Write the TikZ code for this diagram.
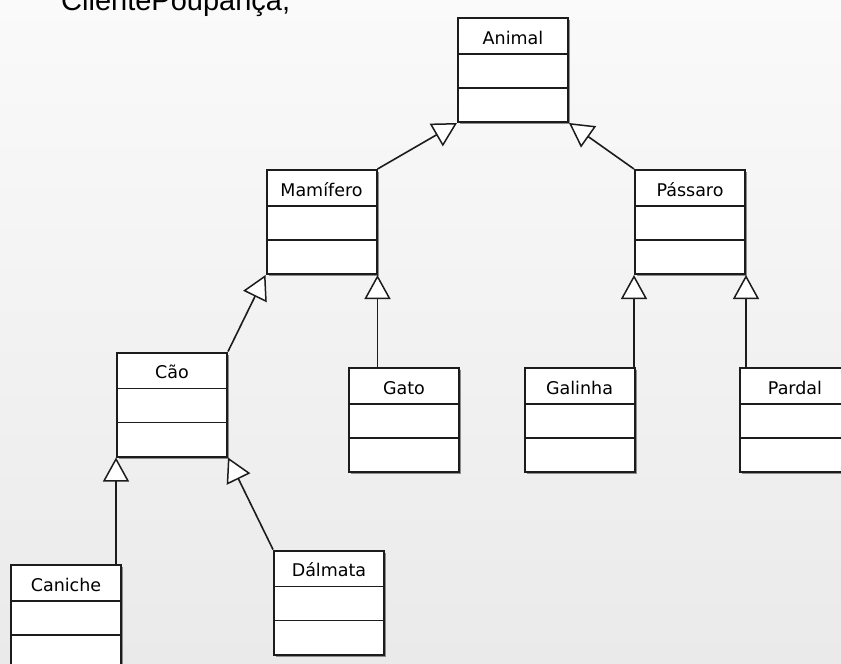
\documentclass[tikz,border=0pt]{standalone}
\usepackage{fontspec}
\setmainfont{DejaVu Sans}
\newfontfamily\titlefont{Liberation Sans}
\usetikzlibrary{arrows.meta,shadows}
\definecolor{bgtop}{RGB}{250,250,250}
\definecolor{bgbot}{RGB}{234,234,234}
\definecolor{ink}{RGB}{28,28,28}
\begin{document}
\begin{tikzpicture}[x=1pt,y=-1pt,
  umlclass/.style={draw=ink, line width=2pt, fill=white, inner sep=0pt,
    minimum width=110pt, text height=26pt, text depth=78pt,
    font=\fontsize{17.5}{20}\selectfont,
    drop shadow={shadow xshift=2pt, shadow yshift=-2pt, fill=black!45, opacity=1},
    path picture={
      \draw[line width=1.6pt, ink]
        ([yshift=-36pt]path picture bounding box.north west) -- ([yshift=-36pt]path picture bounding box.north east)
        ([yshift=-70pt]path picture bounding box.north west) -- ([yshift=-70pt]path picture bounding box.north east);}},
  inherit/.style={draw=ink, line width=1.6pt,
    -{Triangle[length=24pt,width=26pt,fill=white,line width=1.5pt]}}]
  % background and page frame
  \fill[top color=bgtop, bottom color=bgbot] (0,0) rectangle (841,664);
  \useasboundingbox (0,0) rectangle (841,664);
  \clip (0,0) rectangle (841,664);

  % heading line of the slide
  \node[anchor=base west, inner sep=0pt, font=\titlefont\fontsize{29}{32}\selectfont] (title) at (61,10) {ClientePoupança,};

  % classes
  \node[umlclass] (animal)  at (513,70)    {Animal};
  \node[umlclass] (mam)     at (321.5,222) {Mamífero};
  \node[umlclass] (pas)     at (690,222)   {Pássaro};
  \node[umlclass] (cao)     at (172,404.5) {Cão};
  \node[umlclass] (gato)    at (404,420)   {Gato};
  \node[umlclass] (galinha) at (579.5,420) {Galinha};
  \node[umlclass] (pardal)  at (795,420)   {Pardal};
  \node[umlclass] (caniche) at (66,617)    {Caniche};
  \node[umlclass] (dalmata) at (329,602.5) {Dálmata};

  % generalisations
  \draw[inherit] (mam.north east) -- (animal.south west);
  \draw[inherit] (pas.north west) -- (animal.south east);
  \draw[inherit] (cao.north east) -- (mam.south west);
  \draw[inherit] (mam.south east |- gato.north) -- (mam.south east);
  \draw[inherit] (pas.south west |- galinha.north) -- (pas.south west);
  \draw[inherit] (pas.south east |- pardal.north) -- (pas.south east);
  \draw[inherit] (cao.south west |- caniche.north) -- (cao.south west);
  \draw[inherit] (dalmata.north west) -- (cao.south east);
\end{tikzpicture}
\end{document}
